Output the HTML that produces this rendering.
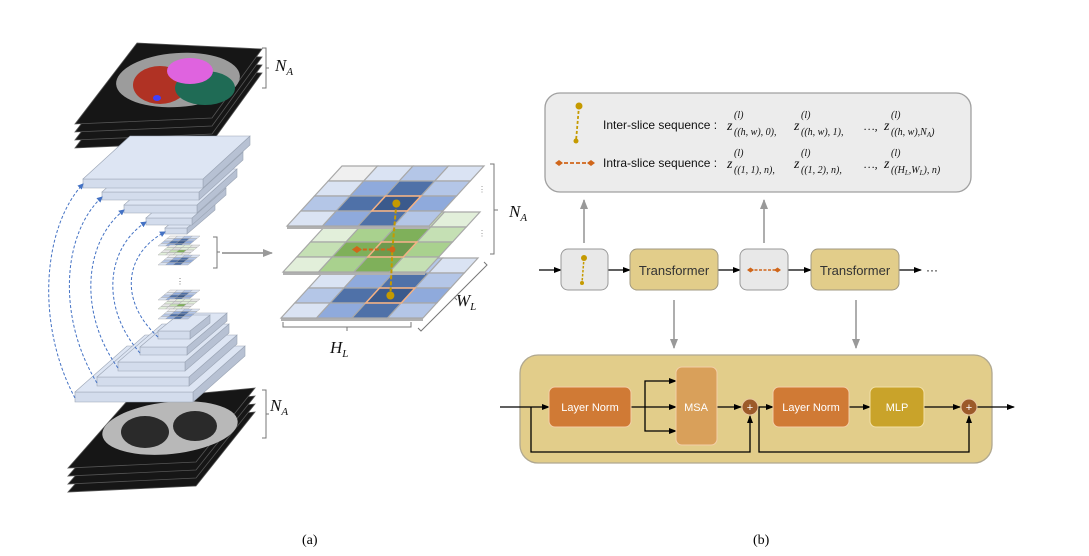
<!DOCTYPE html>
<html><head><meta charset="utf-8"><style>
html,body{margin:0;padding:0;background:#fff;}
svg{display:block;}
.ser{font-family:"Liberation Serif",serif;}
.san{font-family:"Liberation Sans",sans-serif;}
</style></head><body>
<svg id="s" width="1089" height="556" viewBox="0 0 1089 556" xmlns="http://www.w3.org/2000/svg">
<defs>
<marker id="ak" markerWidth="8" markerHeight="8" refX="7" refY="4" orient="auto" markerUnits="userSpaceOnUse"><path d="M0,1 L8,4 L0,7 z" fill="#000"/></marker>
<marker id="ag" markerWidth="10" markerHeight="10" refX="9" refY="5" orient="auto" markerUnits="userSpaceOnUse"><path d="M0,1 L10,5 L0,9 z" fill="#999"/></marker>
<marker id="ab" markerWidth="6" markerHeight="6" refX="5" refY="3" orient="auto" markerUnits="userSpaceOnUse"><path d="M0,0 L6,3 L0,6 z" fill="#4472c4"/></marker>
</defs>
<g id="left"></g>
<!-- right panel -->
<rect x="545" y="93" width="426" height="99" rx="15" fill="#ececec" stroke="#a0a0a0" stroke-width="1.3"/>
<line x1="579" y1="106" x2="576" y2="141" stroke="#c59a00" stroke-width="1.8" stroke-dasharray="3,2"/>
<circle cx="579" cy="106" r="3.5" fill="#c59a00"/><circle cx="576" cy="141" r="2.5" fill="#c59a00"/>
<line x1="558" y1="163" x2="591" y2="163" stroke="#d0661a" stroke-width="1.8" stroke-dasharray="4,2"/>
<path d="M555,163 l4,-3 l4,3 l-4,3z M587,163 l4,-3 l4,3 l-4,3z" fill="#d0661a"/>
<text x="603" y="129" class="san" font-size="12" fill="#111">Inter-slice sequence :</text>
<text x="603" y="167" class="san" font-size="12" fill="#111">Intra-slice sequence :</text>
<g class="ser" font-style="italic" fill="#111">
<text x="727" y="130" font-size="14">z</text><text x="734" y="118" font-size="10">(l)</text><text x="734" y="135" font-size="10">((h, w), 0),</text>
<text x="794" y="130" font-size="14">z</text><text x="801" y="118" font-size="10">(l)</text><text x="801" y="135" font-size="10">((h, w), 1),</text>
<text x="864" y="130" font-size="12">…,</text>
<text x="884" y="130" font-size="14">z</text><text x="891" y="118" font-size="10">(l)</text><text x="891" y="135" font-size="10">((h, w),N<tspan font-size="7" dy="2">A</tspan><tspan dy="-2">)</tspan></text>
<text x="727" y="168" font-size="14">z</text><text x="734" y="156" font-size="10">(l)</text><text x="734" y="173" font-size="10">((1, 1), n),</text>
<text x="794" y="168" font-size="14">z</text><text x="801" y="156" font-size="10">(l)</text><text x="801" y="173" font-size="10">((1, 2), n),</text>
<text x="864" y="168" font-size="12">…,</text>
<text x="884" y="168" font-size="14">z</text><text x="891" y="156" font-size="10">(l)</text><text x="891" y="173" font-size="10">((H<tspan font-size="7" dy="2">L</tspan><tspan dy="-2">,W</tspan><tspan font-size="7" dy="2">L</tspan><tspan dy="-2">), n)</tspan></text>
</g>
<line x1="584" y1="243" x2="584" y2="200" stroke="#999" stroke-width="1.6" marker-end="url(#ag)"/>
<line x1="764" y1="243" x2="764" y2="200" stroke="#999" stroke-width="1.6" marker-end="url(#ag)"/>
<g stroke="#000" stroke-width="1.3">
<line x1="539" y1="270" x2="561" y2="270" marker-end="url(#ak)"/>
<line x1="608" y1="270" x2="630" y2="270" marker-end="url(#ak)"/>
<line x1="718" y1="270" x2="740" y2="270" marker-end="url(#ak)"/>
<line x1="788" y1="270" x2="811" y2="270" marker-end="url(#ak)"/>
<line x1="899" y1="270" x2="921" y2="270" marker-end="url(#ak)"/>
</g>
<text x="926" y="274" class="san" font-size="12">···</text>
<rect x="561" y="249" width="47" height="41" rx="7" fill="#e8e8e8" stroke="#999"/>
<line x1="584" y1="258" x2="582" y2="283" stroke="#c59a00" stroke-width="1.5" stroke-dasharray="2.5,1.5"/>
<circle cx="584" cy="258" r="3" fill="#c59a00"/><circle cx="582" cy="283" r="2" fill="#c59a00"/>
<rect x="740" y="249" width="48" height="41" rx="7" fill="#e8e8e8" stroke="#999"/>
<line x1="750" y1="270" x2="778" y2="270" stroke="#d0661a" stroke-width="1.6" stroke-dasharray="3,1.5"/>
<path d="M747,270 l3.5,-2.5 l3.5,2.5 l-3.5,2.5z M774,270 l3.5,-2.5 l3.5,2.5 l-3.5,2.5z" fill="#d0661a"/>
<rect x="630" y="249" width="88" height="41" rx="7" fill="#e2cd8a" stroke="#a09880"/>
<rect x="811" y="249" width="88" height="41" rx="7" fill="#e2cd8a" stroke="#a09880"/>
<text x="674" y="275" text-anchor="middle" class="san" font-size="13" fill="#333">Transformer</text>
<text x="855" y="275" text-anchor="middle" class="san" font-size="13" fill="#333">Transformer</text>
<line x1="674" y1="300" x2="674" y2="348" stroke="#999" stroke-width="1.6" marker-end="url(#ag)"/>
<line x1="856" y1="300" x2="856" y2="348" stroke="#999" stroke-width="1.6" marker-end="url(#ag)"/>
<rect x="520" y="355" width="472" height="108" rx="18" fill="#e2cd8a" stroke="#b0a890" stroke-width="1.3"/>
<g stroke="#000" stroke-width="1.3" fill="none">
<line x1="500" y1="407" x2="549" y2="407" marker-end="url(#ak)"/>
<polyline points="531,407 531,452 750,452 750,416" marker-end="url(#ak)"/>
<line x1="631" y1="407" x2="676" y2="407" marker-end="url(#ak)"/>
<polyline points="645,407 645,381 676,381" marker-end="url(#ak)"/>
<polyline points="645,407 645,431 676,431" marker-end="url(#ak)"/>
<line x1="717" y1="407" x2="741" y2="407" marker-end="url(#ak)"/>
<line x1="758" y1="407" x2="773" y2="407" marker-end="url(#ak)"/>
<polyline points="759,407 759,452 969,452 969,416" marker-end="url(#ak)"/>
<line x1="849" y1="407" x2="870" y2="407" marker-end="url(#ak)"/>
<line x1="924" y1="407" x2="960" y2="407" marker-end="url(#ak)"/>
<line x1="977" y1="407" x2="1014" y2="407" marker-end="url(#ak)"/>
</g>
<rect x="549" y="387" width="82" height="40" rx="6" fill="#d07a35" stroke="#f3cfa8"/>
<rect x="676" y="367" width="41" height="78" rx="6" fill="#d9a05a" stroke="#f3cfa8"/>
<rect x="773" y="387" width="76" height="40" rx="6" fill="#d07a35" stroke="#f3cfa8"/>
<rect x="870" y="387" width="54" height="40" rx="6" fill="#c9a32a" stroke="#f3e0a8"/>
<g class="san" font-size="11" fill="#fff" text-anchor="middle">
<text x="590" y="411">Layer Norm</text><text x="696" y="411">MSA</text><text x="811" y="411">Layer Norm</text><text x="897" y="411">MLP</text>
</g>
<circle cx="750" cy="407" r="8" fill="#9c5a2a" stroke="#e8c8a0"/><text x="750" y="411" text-anchor="middle" font-size="11" fill="#fff" class="san">+</text>
<circle cx="969" cy="407" r="8" fill="#9c5a2a" stroke="#e8c8a0"/><text x="969" y="411" text-anchor="middle" font-size="11" fill="#fff" class="san">+</text>
<!-- labels -->
<g class="ser" font-style="italic" fill="#111">
<text x="275" y="71" font-size="17">N<tspan font-size="11" dy="4">A</tspan></text>
<text x="270" y="411" font-size="17">N<tspan font-size="11" dy="4">A</tspan></text>
<text x="509" y="217" font-size="17">N<tspan font-size="11" dy="4">A</tspan></text>
<text x="456" y="306" font-size="17">W<tspan font-size="11" dy="4">L</tspan></text>
<text x="330" y="353" font-size="17">H<tspan font-size="11" dy="4">L</tspan></text>
</g>
<text x="302" y="544" class="ser" font-size="14">(a)</text>
<text x="753" y="544" class="ser" font-size="14">(b)</text>
</svg>
<script>
var NS="http://www.w3.org/2000/svg",G=document.getElementById("left");
function el(t,a){var e=document.createElementNS(NS,t);for(var k in a)e.setAttribute(k,a[k]);G.appendChild(e);return e;}
function poly(p,f,s,w){return el("polygon",{points:p.map(function(q){return q[0]+","+q[1]}).join(" "),fill:f,stroke:s||"none","stroke-width":w||1});}
function slab(x,y,w,dx,dy,t){
 poly([[x+w,y],[x+w+dx,y+dy],[x+w+dx,y+dy+t],[x+w,y+t]],"#b7c1d3","#9aa4b4",0.6);
 poly([[x,y],[x+w,y],[x+w,y+t],[x,y+t]],"#d3dcec","#9aa4b4",0.6);
 poly([[x,y],[x+w,y],[x+w+dx,y+dy],[x+dx,y+dy]],"#dde5f3","#9aa4b4",0.6);
}
function grid(fx,fy,w,dx,dy,cols,sw,th){
 function P(u,v){return [fx+u*w/4+(4-v)/4*dx, fy+(4-v)/4*dy];}
 if(th) poly([P(0,4),P(4,4),[P(4,4)[0],P(4,4)[1]+th],[P(0,4)[0],P(0,4)[1]+th]],"#b0b0b0");
 for(var r=0;r<4;r++)for(var c=0;c<4;c++){
  poly([P(c,r),P(c+1,r),P(c+1,r+1),P(c,r+1)],cols[r][c],"#a8a8a8",sw);
 }
 return P;
}
function ct(pts,off,n,seg){
 for(var i=n-1;i>=0;i--){poly(pts.map(function(p){return [p[0],p[1]+i*off]}),"#161616","#555",0.8);}
}
// top CT
ct([[137,43],[262,49],[212,118],[75,124]],8,4);
el("ellipse",{cx:178,cy:80,rx:62,ry:27,fill:"#9c9c9c",transform:"rotate(-4 178 80)"});
el("ellipse",{cx:160,cy:85,rx:27,ry:19,fill:"#b03224"});
el("ellipse",{cx:205,cy:88,rx:30,ry:17,fill:"#1f6b55"});
el("ellipse",{cx:190,cy:71,rx:23,ry:13,fill:"#df63df"});
el("ellipse",{cx:157,cy:98,rx:4,ry:3,fill:"#4040ff"});
// bottom CT
ct([[128,400],[255,388],[196,462],[68,468]],8,4);
el("ellipse",{cx:170,cy:428,rx:68,ry:26,fill:"#b8b8b8",transform:"rotate(-6 170 428)"});
el("ellipse",{cx:145,cy:432,rx:24,ry:16,fill:"#2a2a2a"});
el("ellipse",{cx:195,cy:426,rx:22,ry:15,fill:"#2a2a2a"});
// encoder slabs
slab(165,228,22,28,-24,6);
slab(146,218,46,34,-30,7);
slab(124,205,73,40,-36,8);
slab(102,192,97,44,-40,8);
slab(83,179,120,47,-43,9);
// decoder
slab(75,392,118,52,-46,10);
slab(97,377,92,48,-42,9);
slab(118,362,67,44,-38,9);
slab(140,347,47,40,-34,8);
slab(158,331,32,20,-16,8);
// mini grids
var bl=[["#f0f0f0","#dae3f3","#b4c6e7","#dae3f3"],["#dae3f3","#8faadc","#4f71a8","#b4c6e7"],["#b4c6e7","#4f71a8","#3b5a8c","#8faadc"],["#dae3f3","#8faadc","#4f71a8","#b4c6e7"]];
var gr=[["#e6e6e6","#e2efda","#e2efda","#e6e6e6"],["#e2efda","#dcdcdc","#e2efda","#e2efda"],["#e6e6e6","#c5e0b4","#7fb05a","#e6e6e6"],["#e2efda","#e6e6e6","#e2efda","#e6e6e6"]];
[[239,bl],[248,gr],[258,bl],[293,bl],[302,gr],[312,bl]].forEach(function(a){grid(158,a[0]+7,30,12,-10,a[1],0.4);});
el("text",{x:176,y:284,"font-size":8,fill:"#666"}).textContent="⋮";
// dashed arcs
[[75,398,83,184],[97,383,102,197],[118,368,124,210],[140,353,146,222],[158,337,165,232]].forEach(function(a){
 var k=(a[1]-a[3]);
 el("path",{d:"M"+a[0]+","+a[1]+" C"+(a[0]-40)+","+(a[1]-k*0.35)+" "+(a[2]-40)+","+(a[3]+k*0.2)+" "+a[2]+","+a[3],fill:"none",stroke:"#4472c4","stroke-width":1,"stroke-dasharray":"3,2","marker-end":"url(#ab)"});
});
// big grids
var grn=[["#e2efda","#e2efda","#c5e0b4","#e2efda"],["#e2efda","#a9d18e","#7fb05a","#c5e0b4"],["#c5e0b4","#7fb05a","#6e9a4e","#a9d18e"],["#e2efda","#a9d18e","#7fb05a","#c5e0b4"]];
var P3=grid(281,318,142,55,-60,bl,1.2,3);
var P2=grid(283,272,142,55,-60,grn,1.2,3);
var P1=grid(287,226,142,55,-60,bl,1.2,3);
function hl(P){poly([P(2,2),P(3,2),P(3,3),P(2,3)],"none","#f4b183",1.5);}
hl(P1);hl(P2);hl(P3);
function cen(P,c,r){var a=P(c+0.5,r+0.5);return a;}
var c1=cen(P1,2,2),c2=cen(P2,2,2),c3=cen(P3,2,2),c2b=cen(P2,1,2);
el("polyline",{points:c1+" "+c2+" "+c3,fill:"none",stroke:"#c59a00","stroke-width":2,"stroke-dasharray":"4,2"});
el("line",{x1:c2b[0],y1:c2b[1],x2:c2[0],y2:c2[1],stroke:"#d0661a","stroke-width":2,"stroke-dasharray":"4,2"});
el("circle",{cx:c1[0],cy:c1[1],r:4,fill:"#c59a00"});el("circle",{cx:c3[0],cy:c3[1],r:4,fill:"#c59a00"});
el("circle",{cx:c2[0],cy:c2[1],r:3,fill:"#d0661a"});
poly([[c2b[0]-5,c2b[1]],[c2b[0],c2b[1]-3.5],[c2b[0]+5,c2b[1]],[c2b[0],c2b[1]+3.5]],"#d0661a");
// brackets
function path(d,w){el("path",{d:d,fill:"none",stroke:"#777","stroke-width":w||1});}
path("M262,48 h4 v40 h-4 M266,68 h3");
path("M262,390 h4 v48 h-4 M266,414 h3");
path("M213,237 h4 v31 h-4 M217,252 h3");
path("M490,164 h4 v90 h-4 M494,210 h4");
path("M283,322 v5 h128 v-5 M347,327 v4");
path("M484,262 l3,3 l-66,66 l-3,-3 M454,297 l3,3");
el("line",{x1:222,y1:253,x2:272,y2:253,stroke:"#888","stroke-width":1.5,"marker-end":"url(#ag)"});
el("text",{x:478,y:192,"font-size":8,fill:"#888"}).textContent="⋮";
el("text",{x:478,y:236,"font-size":8,fill:"#888"}).textContent="⋮";
</script>
</body></html>
